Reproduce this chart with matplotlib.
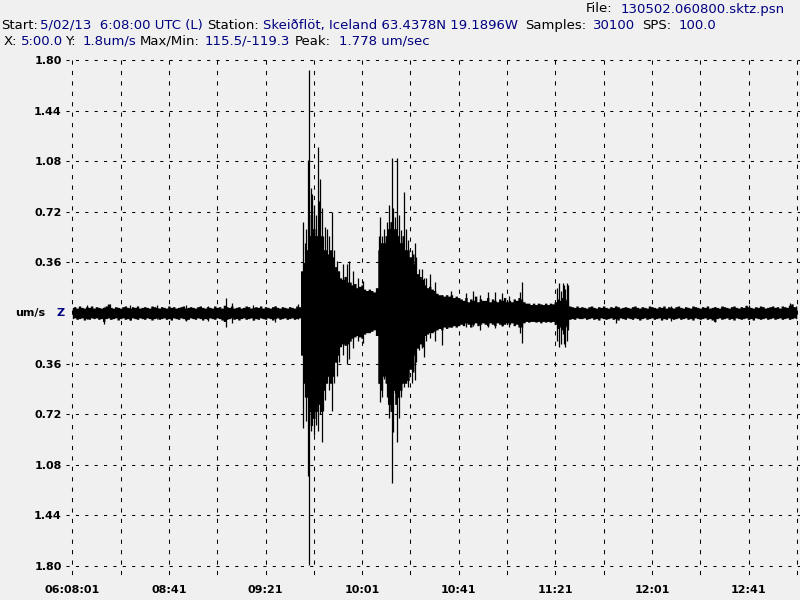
import numpy as np
import matplotlib
matplotlib.use("Agg")
import matplotlib.pyplot as plt

# header text pieces (x pixel, text, is_value)
header1 = [(1, "Start:", 0), (40, "5/02/13  6:08:00 UTC (L)", 1), (207, "Station:", 0),
           (263, "Skeiðflöt, Iceland 63.4378N 19.1896W", 1), (525, "Samples:", 0),
           (593, "30100", 1), (642, "SPS:", 0), (679, "100.0", 1)]
header2 = [(4, "X:", 0), (21, "5:00.0", 1), (65, "Y:", 0), (83, "1.8um/s", 1),
           (140, "Max/Min:", 0), (205, "115.5/-119.3", 1), (295, "Peak:", 0),
           (339, "1.778 um/sec", 1)]
header0 = [(586, "File:", 0), (621, "130502.060800.sktz.psn", 1)]

xtick_sec = [0, 40, 80, 120, 160, 200, 240, 280]
xtick_lab = ["06:08:01", "08:41", "09:21", "10:01", "10:41", "11:21", "12:01", "12:41"]
ytick_val = [1.80, 1.44, 1.08, 0.72, 0.36, -0.36, -0.72, -1.08, -1.44, -1.80]
ytick_lab = ["1.80", "1.44", "1.08", "0.72", "0.36", "0.36", "0.72", "1.08", "1.44", "1.80"]

# envelope of the trace (um/s), one value per second from 0 s to 300 s
hi = [
    .040, .045, .035, .050, .040, .035, .045, .040, .050, .035,   # 0
    .045, .040, .035, .040, .050, .064, .040, .035, .045, .040,   # 10
    .035, .045, .050, .040, .035, .045, .040, .050, .035, .040,   # 20
    .045, .040, .035, .050, .045, .040, .035, .045, .040, .035,   # 30
    .050, .040, .045, .035, .040, .045, .050, .035, .040, .045,   # 40
    .040, .035, .045, .050, .040, .035, .045, .040, .035, .050,   # 50
    .040, .045, .035, .055, .045, .040, .050, .035, .040, .045,   # 60
    .035, .040, .050, .045, .035, .040, .045, .040, .050, .035,   # 70
    .045, .040, .035, .045, .050, .040, .035, .045, .040, .035,   # 80
    .045, .040, .035, .050, .045, .30, .36, .45, .55, .70,        # 90
    .60, .55, .60, .55, .45, .45, .42, .45, .40, .33,             # 100
    .30, .25, .24, .26, .22, .22, .20, .21, .18, .19,             # 110
    .20, .17, .16, .17, .16, .15, .18, .45, .50, .50,             # 120
    .55, .60, .65, .60, .60, .55, .50, .55, .45, .45,             # 130
    .40, .42, .35, .28, .26, .24, .20, .18, .19, .17,             # 140
    .16, .14, .13, .13, .12, .13, .12, .13, .11, .12,             # 150
    .11, .10, .09, .11, .08, .10, .09, .12, .08, .10,             # 160
    .09, .09, .11, .08, .10, .09, .08, .10, .09, .11,             # 170
    .08, .09, .08, .10, .09, .11, .10, .08, .07, .07,             # 180
    .06, .07, .06, .07, .065, .06, .07, .06, .07, .065,           # 190
    .08, .10, .09, .11, .10, .09, .05, .045, .04, .05,            # 200
    .04, .045, .040, .035, .045, .050, .040, .035, .045, .040,    # 210
    .050, .040, .035, .045, .040, .050, .045, .035, .040, .045,   # 220
    .040, .035, .045, .050, .040, .035, .045, .040, .035, .050,   # 230
    .045, .040, .035, .045, .040, .050, .035, .045, .040, .035,   # 240
    .045, .050, .040, .035, .045, .040, .035, .050, .045, .040,   # 250
    .035, .045, .040, .050, .035, .040, .045, .040, .035, .050,   # 260
    .045, .040, .035, .045, .050, .040, .035, .045, .040, .055,   # 270
    .045, .040, .035, .045, .040, .050, .045, .035, .040, .045,   # 280
    .050, .040, .045, .035, .050, .045, .040, .055, .065, .045,   # 290
    .050]
lo = [
    -.040, -.035, -.045, -.040, -.035, -.050, -.040, -.045, -.035, -.040,   # 0
    -.035, -.045, -.040, -.060, -.040, -.035, -.045, -.040, -.035, -.050,   # 10
    -.040, -.035, -.045, -.040, -.050, -.035, -.040, -.045, -.035, -.040,   # 20
    -.045, -.035, -.040, -.050, -.040, -.035, -.045, -.040, -.035, -.045,   # 30
    -.040, -.050, -.035, -.040, -.045, -.035, -.040, -.050, -.045, -.035,   # 40
    -.040, -.045, -.035, -.040, -.050, -.040, -.045, -.035, -.040, -.045,   # 50
    -.035, -.040, -.050, -.060, -.045, -.040, -.035, -.045, -.040, -.050,   # 60
    -.040, -.035, -.045, -.040, -.035, -.050, -.040, -.045, -.035, -.040,   # 70
    -.045, -.035, -.040, -.050, -.040, -.035, -.045, -.040, -.035, -.045,   # 80
    -.040, -.035, -.045, -.040, -.035, -.30, -.50, -.60, -.70, -.80,        # 90
    -.75, -.70, -.65, -.70, -.55, -.50, -.45, -.50, -.45, -.35,             # 100
    -.30, -.24, -.22, -.23, -.22, -.20, -.18, -.17, -.16, -.17,             # 110
    -.18, -.15, -.14, -.14, -.13, -.12, -.16, -.50, -.55, -.45,             # 120
    -.50, -.65, -.70, -.55, -.65, -.60, -.55, -.50, -.50, -.48,             # 130
    -.40, -.42, -.30, -.25, -.22, -.24, -.16, -.15, -.14, -.14,             # 140
    -.13, -.12, -.11, -.12, -.10, -.11, -.10, -.10, -.09, -.10,             # 150
    -.09, -.08, -.09, -.07, -.08, -.10, -.08, -.07, -.09, -.08,             # 160
    -.07, -.08, -.09, -.07, -.08, -.09, -.07, -.08, -.09, -.08,             # 170
    -.07, -.08, -.07, -.09, -.08, -.10, -.10, -.07, -.06, -.065,            # 180
    -.06, -.06, -.065, -.06, -.07, -.06, -.065, -.06, -.065, -.06,          # 190
    -.08, -.11, -.10, -.12, -.10, -.09, -.045, -.04, -.045, -.035,          # 200
    -.04, -.040, -.035, -.045, -.040, -.035, -.045, -.040, -.050, -.035,    # 210
    -.040, -.045, -.040, -.035, -.045, -.040, -.050, -.035, -.040, -.045,   # 220
    -.035, -.040, -.045, -.035, -.040, -.050, -.040, -.035, -.045, -.040,   # 230
    -.035, -.045, -.040, -.035, -.050, -.040, -.045, -.035, -.040, -.045,   # 240
    -.040, -.035, -.045, -.040, -.035, -.045, -.040, -.050, -.035, -.040,   # 250
    -.045, -.040, -.035, -.045, -.040, -.050, -.060, -.040, -.035, -.045,   # 260
    -.040, -.035, -.045, -.040, -.050, -.035, -.040, -.045, -.040, -.035,   # 270
    -.045, -.040, -.050, -.035, -.040, -.045, -.040, -.035, -.045, -.040,   # 280
    -.035, -.045, -.040, -.035, -.045, -.040, -.035, -.045, -.040, -.035,   # 290
    -.040]

# single large swings (time s, top, bottom)
spike_t = [6.0, 13.0, 15.6, 24.0, 35.0, 47.0, 56.0, 63.7, 66.0, 75.0, 84.0, 93.4,
           95.5, 96.2, 96.8, 97.6, 98.1, 98.8, 99.4, 100.2, 100.8, 101.6, 102.0,
           102.6, 103.4, 104.0, 104.5, 105.3, 106.2, 107.4, 108.3, 109.5, 110.5,
           112.2, 113.6, 114.5, 116.3, 118.5, 120.4,
           127.2, 127.6, 128.4, 129.0, 130.2, 131.1, 132.4, 132.9, 133.6, 134.6,
           135.2, 136.2, 137.3, 138.0, 139.2, 140.5, 141.9, 142.5, 143.4, 144.8,
           145.6, 146.5, 148.0, 150.0, 153.0, 157.0,
           163.0, 166.0, 169.0, 172.0, 175.0, 178.0, 181.0, 185.5, 186.2,
           200.6, 201.5, 202.2, 203.0, 203.5, 204.2, 204.7, 205.2,
           225.0, 248.0, 266.0, 280.0, 297.0]
spike_hi = [0.06, 0.04, 0.064, 0.055, 0.06, 0.055, 0.05, 0.11, 0.07, 0.06, 0.05, 0.064,
            0.65, 0.50, 0.60, 1.09, 1.73, 0.89, 0.85, 0.77, 0.70, 1.18, 0.80,
            0.95, 0.75, 0.55, 0.61, 0.60, 0.55, 0.72, 0.45, 0.37, 0.30,
            0.35, 0.35, 0.37, 0.30, 0.25, 0.23,
            0.55, 0.68, 0.55, 0.60, 0.65, 0.77, 1.10, 0.75, 0.68, 1.10,
            0.70, 0.59, 0.86, 0.60, 0.52, 0.45, 0.50, 0.40, 0.31, 0.31,
            0.25, 0.25, 0.28, 0.22, 0.13, 0.16,
            0.14, 0.16, 0.13, 0.15, 0.15, 0.14, 0.12, 0.15, 0.22,
            0.18, 0.21, 0.16, 0.21, 0.20, 0.17, 0.21, 0.20,
            0.05, 0.05, 0.04, 0.055, 0.07]
spike_lo = [-0.04, -0.078, -0.04, -0.05, -0.045, -0.06, -0.06, -0.10, -0.07, -0.05, -0.065, -0.04,
            -0.82, -0.60, -0.77, -1.16, -1.79, -0.84, -0.70, -0.87, -0.80, -0.84, -0.60,
            -0.72, -0.92, -0.70, -0.62, -0.50, -0.55, -0.70, -0.50, -0.45, -0.35,
            -0.30, -0.36, -0.33, -0.25, -0.20, -0.21,
            -0.50, -0.63, -0.60, -0.47, -0.60, -0.75, -1.21, -0.85, -0.57, -0.92,
            -0.75, -0.60, -0.53, -0.45, -0.53, -0.50, -0.48, -0.35, -0.26, -0.25,
            -0.31, -0.20, -0.18, -0.20, -0.23, -0.10,
            -0.10, -0.09, -0.12, -0.10, -0.11, -0.09, -0.10, -0.14, -0.21,
            -0.20, -0.24, -0.22, -0.15, -0.22, -0.24, -0.20, -0.12,
            -0.07, -0.06, -0.062, -0.04, -0.04]

t_env = np.arange(len(hi)) * 1.0

W, H = 800, 600
PX_PER_S = 2.415
X0 = 72.3
bg = "#f0f0f0"
navy = "#000080"

fig = plt.figure(figsize=(8, 6), dpi=100, facecolor=bg)
ax = fig.add_axes([X0 / W, 34 / H, (W - X0) / W, 506 / H])
ax.set_facecolor(bg)
ax.set_xlim(0, (W - X0) / PX_PER_S)
ax.set_ylim(-1.8, 1.8)
for s in ax.spines.values():
    s.set_visible(False)

# dotted grid like the original viewer
xl = ax.get_xlim()
for v in [1.8, 1.44, 1.08, 0.72, 0.36, 0, -0.36, -0.72, -1.08, -1.44, -1.8]:
    x_start = 0 if v == 0 else -2.6
    ax.plot([x_start, xl[1]], [v, v], color="black", lw=0.75, ls=(0, (3, 6)),
            clip_on=False, zorder=1)
for s in range(0, 301, 20):
    ax.plot([s, s], [1.8, -1.88], color="black", lw=0.75, ls=(0, (4, 6)),
            clip_on=False, zorder=1)

ax.fill_between(t_env, lo, hi, step="mid", color="black", lw=0, zorder=3)
ax.vlines(spike_t, spike_lo, spike_hi, color="black", lw=0.9, zorder=3)

ax.set_xticks(xtick_sec)
ax.set_xticklabels(xtick_lab, fontsize=8, fontweight="bold")
ax.set_yticks(ytick_val)
ax.set_yticklabels(ytick_lab, fontsize=8, fontweight="bold")
ax.tick_params(length=0)
ax.tick_params(axis="y", pad=7.5)
ax.tick_params(axis="x", pad=13.5)

fig.text(15 / W, 1 - 313 / H, "um/s", fontsize=8, fontweight="bold", va="center")
fig.text(57 / W, 1 - 313 / H, "Z", fontsize=8, fontweight="bold", color=navy, va="center")

for items, ybase in [(header0, 12.5), (header1, 29), (header2, 45)]:
    for x, txt, isval in items:
        fig.text(x / W, 1 - ybase / H, txt, fontsize=9.5, va="baseline",
                 color=navy if isval else "black")

fig.savefig("out.png", dpi=100, facecolor=bg)
